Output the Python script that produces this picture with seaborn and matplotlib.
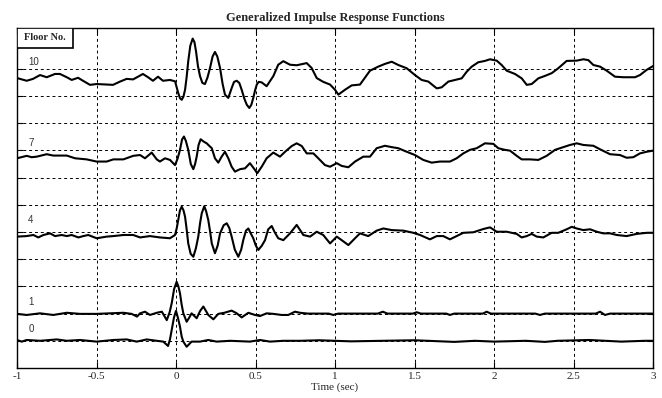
import numpy as np
import pandas as pd
import seaborn as sns
import matplotlib.pyplot as plt
from matplotlib.patches import Rectangle

# floor numbers, vertical offsets of each trace (in grid units) and label heights
floors = [0, 1, 4, 7, 10]
offsets = [1.0, 2.0, 4.8, 7.7, 10.6]
label_y = [1.43, 2.43, 5.44, 8.27, 11.25]

xticks = [-1, -0.5, 0, 0.5, 1, 1.5, 2, 2.5, 3]
xtick_labels = ['-1', '-0.5', '0', '0.5', '1', '1.5', '2', '2.5', '3']

# (time [s], response)
floor0 = [(-1.0, 0.03), (-0.97, -0.03), (-0.939, 0.03), (-0.855, 0.0), (-0.75, 0.05), (-0.687, 0.0),
          (-0.604, 0.03), (-0.499, -0.03), (-0.394, 0.03), (-0.31, 0.05), (-0.247, -0.03), (-0.184, 0.05),
          (-0.121, 0.0), (-0.08, -0.03), (-0.05, -0.19), (-0.038, 0.05), (-0.027, 0.40), (-0.013, 0.85),
          (0.0, 1.1), (0.012, 0.85), (0.025, 0.52), (0.036, 0.15), (0.046, -0.03), (0.067, -0.22),
          (0.098, -0.03), (0.151, -0.03), (0.203, 0.03), (0.255, -0.03),
          (0.34, 0.0), (0.465, -0.03), (0.528, 0.03), (0.591, -0.03), (0.675, 0.0), (0.78, 0.0),
          (0.9, 0.02), (1.1, -0.02), (1.3, 0.0), (1.5, 0.02), (1.75, -0.04), (1.88, 0.0), (2.0, -0.03),
          (2.2, 0.0), (2.32, -0.04), (2.4, 0.0), (2.6, 0.03), (2.8, -0.03), (2.95, 0.0), (3.0, 0.0)]

floor1 = [(-1.0, -0.01), (-0.939, -0.05), (-0.855, 0.01), (-0.772, -0.05), (-0.687, 0.03), (-0.604, -0.01),
          (-0.499, -0.01), (-0.415, 0.01), (-0.331, 0.03), (-0.279, -0.01), (-0.245, -0.11), (-0.226, 0.01),
          (-0.195, 0.07), (-0.164, -0.05), (-0.121, 0.03), (-0.089, 0.07), (-0.058, -0.24), (-0.04, 0.05),
          (-0.027, 0.38), (-0.012, 0.9), (0.004, 1.17), (0.015, 1.0), (0.025, 0.75), (0.035, 0.35),
          (0.046, 0.01), (0.067, -0.30), (0.083, -0.15), (0.098, 0.01), (0.130, -0.17), (0.152, 0.1),
          (0.172, 0.26), (0.188, 0.1), (0.203, -0.05), (0.235, -0.21), (0.266, -0.01), (0.304, 0.03),
          (0.350, 0.11), (0.382, 0.01), (0.413, -0.14), (0.455, 0.03), (0.497, -0.05), (0.528, -0.09),
          (0.570, 0.01), (0.612, -0.01), (0.664, -0.05), (0.706, -0.05), (0.748, 0.07), (0.780, 0.03),
          (0.830, 0.0), (0.960, 0.0), (0.989, -0.05), (1.020, 0.0), (1.270, 0.0), (1.301, 0.07),
          (1.330, 0.0), (1.490, 0.0), (1.514, 0.05), (1.540, 0.0), (1.700, 0.0), (1.723, -0.05),
          (1.750, 0.0), (1.930, 0.0), (1.954, 0.07), (1.980, 0.0), (2.260, 0.0), (2.289, -0.05),
          (2.320, 0.0), (2.640, 0.0), (2.667, 0.07), (2.698, -0.05), (2.730, 0.0), (3.0, 0.0)]

floor4 = [(-1.0, 0.03), (-0.939, 0.05), (-0.897, 0.09), (-0.866, 0.0), (-0.834, 0.09), (-0.792, 0.15),
          (-0.761, 0.05), (-0.719, 0.09), (-0.687, 0.05), (-0.656, 0.09), (-0.614, 0.0), (-0.583, 0.05),
          (-0.552, 0.09), (-0.499, -0.03), (-0.436, 0.03), (-0.394, 0.05), (-0.331, 0.09), (-0.269, 0.09),
          (-0.226, 0.0), (-0.164, 0.05), (-0.101, 0.0), (-0.038, -0.03), (-0.006, 0.09), (0.005, 0.35),
          (0.014, 0.64), (0.025, 1.0), (0.036, 1.13), (0.047, 1.0), (0.057, 0.76), (0.067, 0.3),
          (0.077, -0.22), (0.092, -0.6), (0.109, -0.71), (0.125, -0.4), (0.140, 0.03), (0.152, 0.55),
          (0.162, 0.89), (0.178, 1.15), (0.19, 0.95), (0.203, 0.64), (0.215, 0.2), (0.225, -0.22),
          (0.245, -0.58), (0.262, -0.3), (0.277, 0.15), (0.3, 0.45), (0.319, 0.52), (0.335, 0.35),
          (0.350, 0.03), (0.37, -0.45), (0.392, -0.71), (0.41, -0.45), (0.423, -0.10), (0.44, 0.25),
          (0.455, 0.33), (0.47, 0.15), (0.486, -0.03), (0.502, -0.3), (0.518, -0.46), (0.54, -0.3),
          (0.560, -0.10), (0.58, 0.3), (0.602, 0.42), (0.62, 0.2), (0.643, -0.03), (0.675, -0.10),
          (0.717, 0.15), (0.759, 0.46), (0.801, 0.09), (0.843, 0.03), (0.885, 0.21), (0.926, 0.09),
          (0.969, -0.22), (1.011, 0.03), (1.042, -0.10), (1.084, -0.28), (1.126, -0.03), (1.157, 0.15),
          (1.209, 0.05), (1.262, 0.25), (1.304, 0.33), (1.357, 0.27), (1.430, 0.25), (1.493, 0.17),
          (1.535, 0.09), (1.597, -0.07), (1.640, 0.05), (1.681, 0.05), (1.723, -0.07), (1.765, 0.05),
          (1.807, 0.17), (1.870, 0.19), (1.933, 0.31), (1.975, 0.37), (2.017, 0.21), (2.080, 0.21),
          (2.143, 0.13), (2.174, 0.0), (2.206, 0.05), (2.237, 0.13), (2.269, 0.03), (2.310, 0.0),
          (2.363, 0.17), (2.404, 0.17), (2.457, 0.30), (2.489, 0.39), (2.520, 0.33), (2.562, 0.27),
          (2.604, 0.30), (2.646, 0.21), (2.687, 0.15), (2.730, 0.15), (2.772, 0.09), (2.834, 0.05),
          (2.897, 0.13), (2.960, 0.17), (3.0, 0.17)]

floor7 = [(-1.0, 0.01), (-0.939, 0.10), (-0.908, 0.05), (-0.876, 0.07), (-0.813, 0.16), (-0.772, 0.11),
          (-0.687, 0.11), (-0.635, 0.01), (-0.562, -0.03), (-0.499, -0.11), (-0.436, -0.11), (-0.394, -0.03),
          (-0.331, -0.03), (-0.269, 0.10), (-0.226, 0.13), (-0.195, 0.01), (-0.153, 0.22), (-0.121, -0.03),
          (-0.101, -0.11), (-0.069, 0.01), (-0.038, -0.05), (-0.006, -0.24), (0.01, 0.0), (0.025, 0.32),
          (0.038, 0.7), (0.050, 0.81), (0.062, 0.65), (0.077, 0.32), (0.093, -0.2), (0.109, -0.39),
          (0.12, -0.2), (0.130, 0.07), (0.142, 0.5), (0.155, 0.71), (0.175, 0.62), (0.193, 0.56),
          (0.225, 0.38), (0.245, 0.01), (0.266, -0.15), (0.287, 0.07), (0.308, 0.25), (0.329, 0.01),
          (0.350, -0.30), (0.371, -0.48), (0.403, -0.39), (0.434, -0.36), (0.465, -0.17), (0.497, -0.42),
          (0.511, -0.54), (0.539, -0.30), (0.570, 0.01), (0.612, 0.22), (0.654, 0.07), (0.686, 0.25),
          (0.728, 0.46), (0.759, 0.56), (0.791, 0.46), (0.822, 0.19), (0.864, 0.19), (0.895, 0.01),
          (0.937, -0.24), (0.969, -0.30), (1.011, -0.17), (1.042, -0.27), (1.084, -0.32), (1.126, -0.11),
          (1.178, 0.07), (1.220, 0.07), (1.262, 0.38), (1.314, 0.47), (1.357, 0.42), (1.398, 0.38),
          (1.451, 0.25), (1.503, 0.13), (1.555, -0.05), (1.608, -0.15), (1.660, -0.11), (1.723, -0.11),
          (1.765, 0.01), (1.807, 0.19), (1.849, 0.32), (1.891, 0.38), (1.943, 0.56), (1.996, 0.54),
          (2.027, 0.38), (2.069, 0.32), (2.101, 0.29), (2.143, 0.10), (2.174, -0.03), (2.226, -0.03),
          (2.279, -0.05), (2.331, 0.10), (2.384, 0.32), (2.436, 0.42), (2.478, 0.50), (2.520, 0.56),
          (2.562, 0.50), (2.625, 0.47), (2.667, 0.34), (2.730, 0.16), (2.792, 0.13), (2.834, 0.03),
          (2.876, 0.05), (2.918, 0.19), (2.960, 0.25), (3.0, 0.29)]

floor10 = [(-1.0, 0.06), (-0.939, -0.04), (-0.899, 0.03), (-0.855, 0.17), (-0.813, 0.09), (-0.761, 0.21),
           (-0.730, 0.21), (-0.687, 0.09), (-0.656, -0.01), (-0.616, 0.07), (-0.585, -0.04), (-0.541, -0.19),
           (-0.499, -0.16), (-0.396, -0.19), (-0.352, -0.07), (-0.310, 0.03), (-0.270, 0.01), (-0.208, 0.21),
           (-0.176, 0.09), (-0.145, -0.04), (-0.113, 0.11), (-0.082, -0.04), (-0.038, -0.01), (-0.006, -0.06),
           (0.014, -0.49), (0.025, -0.68), (0.036, -0.74), (0.047, -0.62), (0.057, -0.37), (0.067, 0.1),
           (0.077, 0.68), (0.09, 1.25), (0.105, 1.51), (0.116, 1.38), (0.126, 1.04), (0.138, 0.5),
           (0.151, 0.13), (0.166, -0.12), (0.182, -0.16), (0.198, 0.08), (0.214, 0.43), (0.23, 0.85),
           (0.245, 1.02), (0.26, 0.85), (0.277, 0.43), (0.293, -0.15), (0.308, -0.55), (0.329, -0.67),
           (0.350, -0.31), (0.365, -0.08), (0.382, -0.04), (0.398, -0.12), (0.413, -0.37), (0.43, -0.7),
           (0.445, -0.92), (0.461, -1.04), (0.474, -0.92), (0.486, -0.67), (0.497, -0.4), (0.508, -0.18),
           (0.52, -0.08), (0.539, -0.10), (0.570, -0.24), (0.612, 0.13), (0.643, 0.55),
           (0.675, 0.68), (0.717, 0.55), (0.759, 0.53), (0.822, 0.61), (0.853, 0.43), (0.885, 0.06),
           (0.926, -0.08), (0.969, -0.18), (1.000, -0.37), (1.021, -0.55), (1.063, -0.37), (1.105, -0.21),
           (1.157, -0.18), (1.178, -0.01), (1.220, 0.33), (1.272, 0.48), (1.314, 0.58), (1.357, 0.66),
           (1.398, 0.54), (1.451, 0.42), (1.503, 0.17), (1.545, -0.01), (1.587, -0.07), (1.640, -0.32),
           (1.671, -0.28), (1.713, -0.07), (1.755, -0.01), (1.797, 0.05), (1.828, 0.29), (1.860, 0.48),
           (1.901, 0.64), (1.943, 0.69), (1.975, 0.75), (2.017, 0.70), (2.048, 0.54), (2.080, 0.33),
           (2.132, 0.21), (2.174, 0.05), (2.206, -0.19), (2.237, -0.16), (2.279, 0.05), (2.321, 0.14),
           (2.363, 0.24), (2.404, 0.42), (2.457, 0.69), (2.520, 0.70), (2.562, 0.75), (2.593, 0.72),
           (2.625, 0.54), (2.667, 0.48), (2.709, 0.33), (2.761, 0.11), (2.813, 0.09), (2.887, 0.09),
           (2.918, 0.17), (2.960, 0.36), (3.0, 0.50)]

traces = [floor0, floor1, floor4, floor7, floor10]

frames = []
for fl, off, pts in zip(floors, offsets, traces):
    d = pd.DataFrame(pts, columns=['t', 'amp'])
    d['floor'] = fl
    d['y'] = d['amp'] + off
    frames.append(d)
df = pd.concat(frames, ignore_index=True)

sns.set_style('white')
serif = 'Liberation Serif'

fig = plt.figure(figsize=(6.62, 3.98), dpi=100)
ax = fig.add_axes([17 / 662, 30 / 398, 636 / 662, 340 / 398])

sns.lineplot(data=df, x='t', y='y', units='floor', estimator=None, color='black',
             lw=1.5, ax=ax, legend=False, solid_joinstyle='round')

ax.set_xlim(-1, 3)
ax.set_ylim(0, 12.5)
ax.set_xticks(xticks)
ax.set_xticklabels(xtick_labels, family=serif, fontsize=8)
ax.set_yticks(range(1, 12))
ax.set_yticklabels([])
ax.tick_params(axis='both', direction='in', length=4, width=0.8, color='black',
               bottom=True, top=True, left=True, right=True, pad=3)
ax.grid(True, color='black', lw=0.7, ls=(0, (3, 3)))
ax.set_axisbelow(True)
for s in ax.spines.values():
    s.set_color('black')
    s.set_linewidth(1)

ax.set_xlabel('Time (sec)', family=serif, fontsize=8, labelpad=1)
ax.set_ylabel('')
ax.set_title('Generalized Impulse Response Functions', family=serif, fontsize=9,
             fontweight='bold', pad=5)

for fl, ly in zip(floors, label_y):
    ax.text(-0.93, ly, str(fl), fontsize=7, family='Liberation Sans', color='#333333',
            ha='left', va='center')

ax.add_patch(Rectangle((0, 0.942), 0.088, 0.058, transform=ax.transAxes, fc='white',
                       ec='black', lw=1.2, zorder=5))
ax.text(0.044, 0.971, 'Floor No.', transform=ax.transAxes, family=serif, fontsize=7.5,
        fontweight='bold', ha='center', va='center', zorder=6)

fig.savefig('out.png', dpi=100)
